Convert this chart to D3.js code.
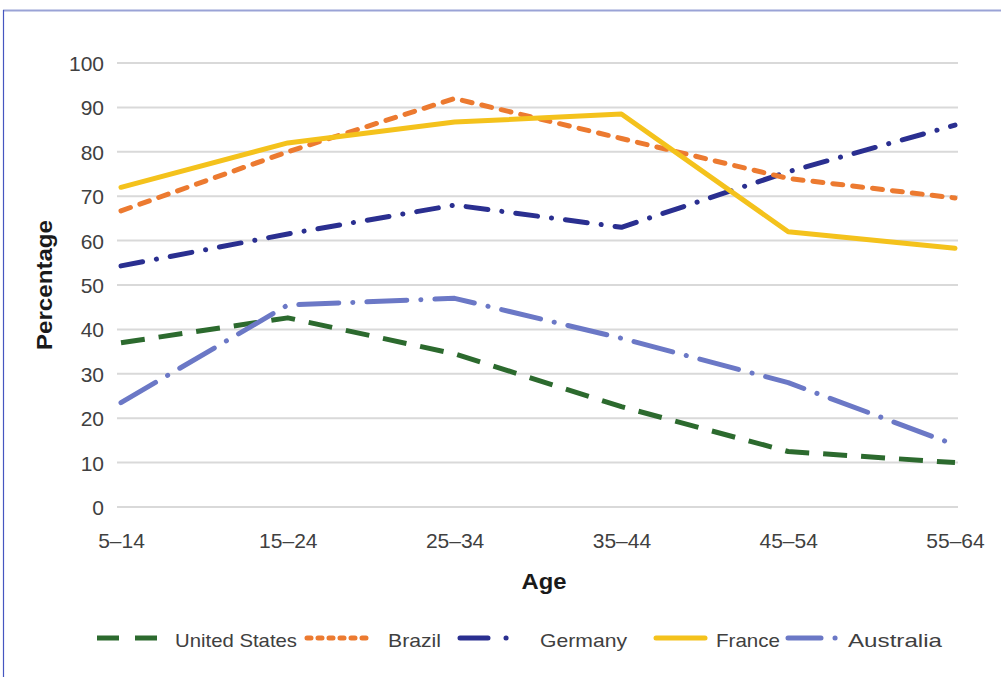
<!DOCTYPE html>
<html>
<head>
<meta charset="utf-8">
<script src="https://cdn.jsdelivr.net/npm/d3@7"></script>
<style>
  body { margin: 0; background: #fff; }
  svg { display: block; font-family: "Liberation Sans", Arial, sans-serif; }
</style>
</head>
<body>
<div id="chart"></div>
<script>
var ageGroups = ["5–14", "15–24", "25–34", "35–44", "45–54", "55–64"];
var yTicks = [0, 10, 20, 30, 40, 50, 60, 70, 80, 90, 100];

var seriesNames = ["United States", "Brazil", "Germany", "France", "Australia"];
var unitedStates = [37, 42.6, 34.5, 22.6, 12.5, 10];
var brazil = [66.7, 80, 92, 83, 74, 69.6];
var germany = [54.3, 61.5, 68, 63, 75.5, 86];
var france = [72, 82, 86.7, 88.5, 62, 58.3];
var australia = [23.5, 45.5, 47, 38, 28, 14];

function init() {
    var w = 1001;
    var h = 677;

    var svg = d3.select("#chart")
        .append("svg")
        .attr("width", w)
        .attr("height", h);

    // frame lines at top and left
    svg.append("line")
        .attr("x1", 3).attr("y1", 10.5).attr("x2", w).attr("y2", 10.5)
        .attr("stroke", "#9aa3d6").attr("stroke-width", 2);
    svg.append("line")
        .attr("x1", 3.5).attr("y1", 10).attr("x2", 3.5).attr("y2", h)
        .attr("stroke", "#4556c0").attr("stroke-width", 1.2);

    var x = d3.scalePoint()
        .domain(ageGroups)
        .range([121, 955]);

    var y = d3.scaleLinear()
        .domain([0, 100])
        .range([507, 63]);

    // gridlines
    svg.append("g")
        .selectAll("line")
        .data(yTicks)
        .enter()
        .append("line")
        .attr("x1", 117)
        .attr("x2", 958)
        .attr("y1", d => y(d))
        .attr("y2", d => y(d))
        .attr("stroke", "#d9d9d9")
        .attr("stroke-width", 2);

    // y axis labels
    var yAxis = d3.axisLeft(y).tickValues(yTicks).tickSize(0).tickPadding(0);
    var gy = svg.append("g")
        .attr("transform", "translate(104,0)")
        .call(yAxis);
    gy.select(".domain").remove();
    gy.selectAll("text")
        .attr("font-size", 21)
        .attr("fill", "#404040")
        .attr("font-family", "Liberation Sans, Arial, sans-serif")
        .attr("dy", "0.36em");

    // x axis labels
    var xAxis = d3.axisBottom(x).tickSize(0).tickPadding(0);
    var gx = svg.append("g")
        .attr("transform", "translate(0,540)")
        .call(xAxis);
    gx.select(".domain").remove();
    gx.selectAll("text")
        .attr("font-size", 21)
        .attr("fill", "#404040")
        .attr("font-family", "Liberation Sans, Arial, sans-serif")
        .attr("dy", "0.36em");

    // axis titles
    svg.append("text")
        .attr("transform", "translate(52,285) rotate(-90)")
        .attr("text-anchor", "middle")
        .attr("font-size", 22)
        .attr("font-weight", "bold")
        .attr("fill", "#1a1a1a")
        .attr("textLength", 130)
        .attr("lengthAdjust", "spacingAndGlyphs")
        .text("Percentage");

    svg.append("text")
        .attr("x", 544)
        .attr("y", 589)
        .attr("text-anchor", "middle")
        .attr("font-size", 22)
        .attr("font-weight", "bold")
        .attr("fill", "#1a1a1a")
        .attr("textLength", 45)
        .attr("lengthAdjust", "spacingAndGlyphs")
        .text("Age");

    var styles = [
        { color: "#2c6a2e", dash: "24,14", cap: "butt" },
        { color: "#ec7a30", dash: "10,10", cap: "round" },
        { color: "#2a2f90", dash: "22,14,0.1,14", cap: "round" },
        { color: "#f4c21c", dash: null, cap: "round" },
        { color: "#6b78c6", dash: "40,14,0.1,14", cap: "round" }
    ];
    var allValues = [unitedStates, brazil, germany, france, australia];

    var line = d3.line()
        .x((d, i) => x(ageGroups[i]))
        .y(d => y(d));

    // draw in an order so yellow sits above orange like the reference
    var order = [0, 4, 2, 1, 3];
    order.forEach(function (k) {
        svg.append("path")
            .datum(allValues[k])
            .attr("d", line)
            .attr("fill", "none")
            .attr("stroke", styles[k].color)
            .attr("stroke-width", 5)
            .attr("stroke-linecap", styles[k].cap)
            .attr("stroke-linejoin", "round")
            .attr("stroke-dasharray", styles[k].dash);
    });

    // legend
    var legendItems = [
        { line: [97, 160], text: 175, len: 122 },
        { line: [307, 370], text: 388, len: 53 },
        { line: [460, 512], text: 540, len: 87 },
        { line: [656, 705], text: 716, len: 64 },
        { line: [788, 838], text: 848, len: 94 }
    ];
    var legendDash = ["22,16", "4,7", "28,18,0.1,100", null, "33,14,0.1,100"];
    var legend = svg.append("g");
    legendItems.forEach(function (it, k) {
        legend.append("line")
            .attr("x1", it.line[0]).attr("x2", it.line[1])
            .attr("y1", 638).attr("y2", 638)
            .attr("stroke", styles[k].color)
            .attr("stroke-width", 5)
            .attr("stroke-linecap", k === 0 ? "butt" : "round")
            .attr("stroke-dasharray", legendDash[k]);
        legend.append("text")
            .attr("x", it.text)
            .attr("y", 640)
            .attr("dy", "0.35em")
            .attr("font-size", 19)
            .attr("fill", "#404040")
            .attr("textLength", it.len)
            .attr("lengthAdjust", "spacingAndGlyphs")
            .text(seriesNames[k]);
    });
}

window.onload = init;
</script>
</body>
</html>
